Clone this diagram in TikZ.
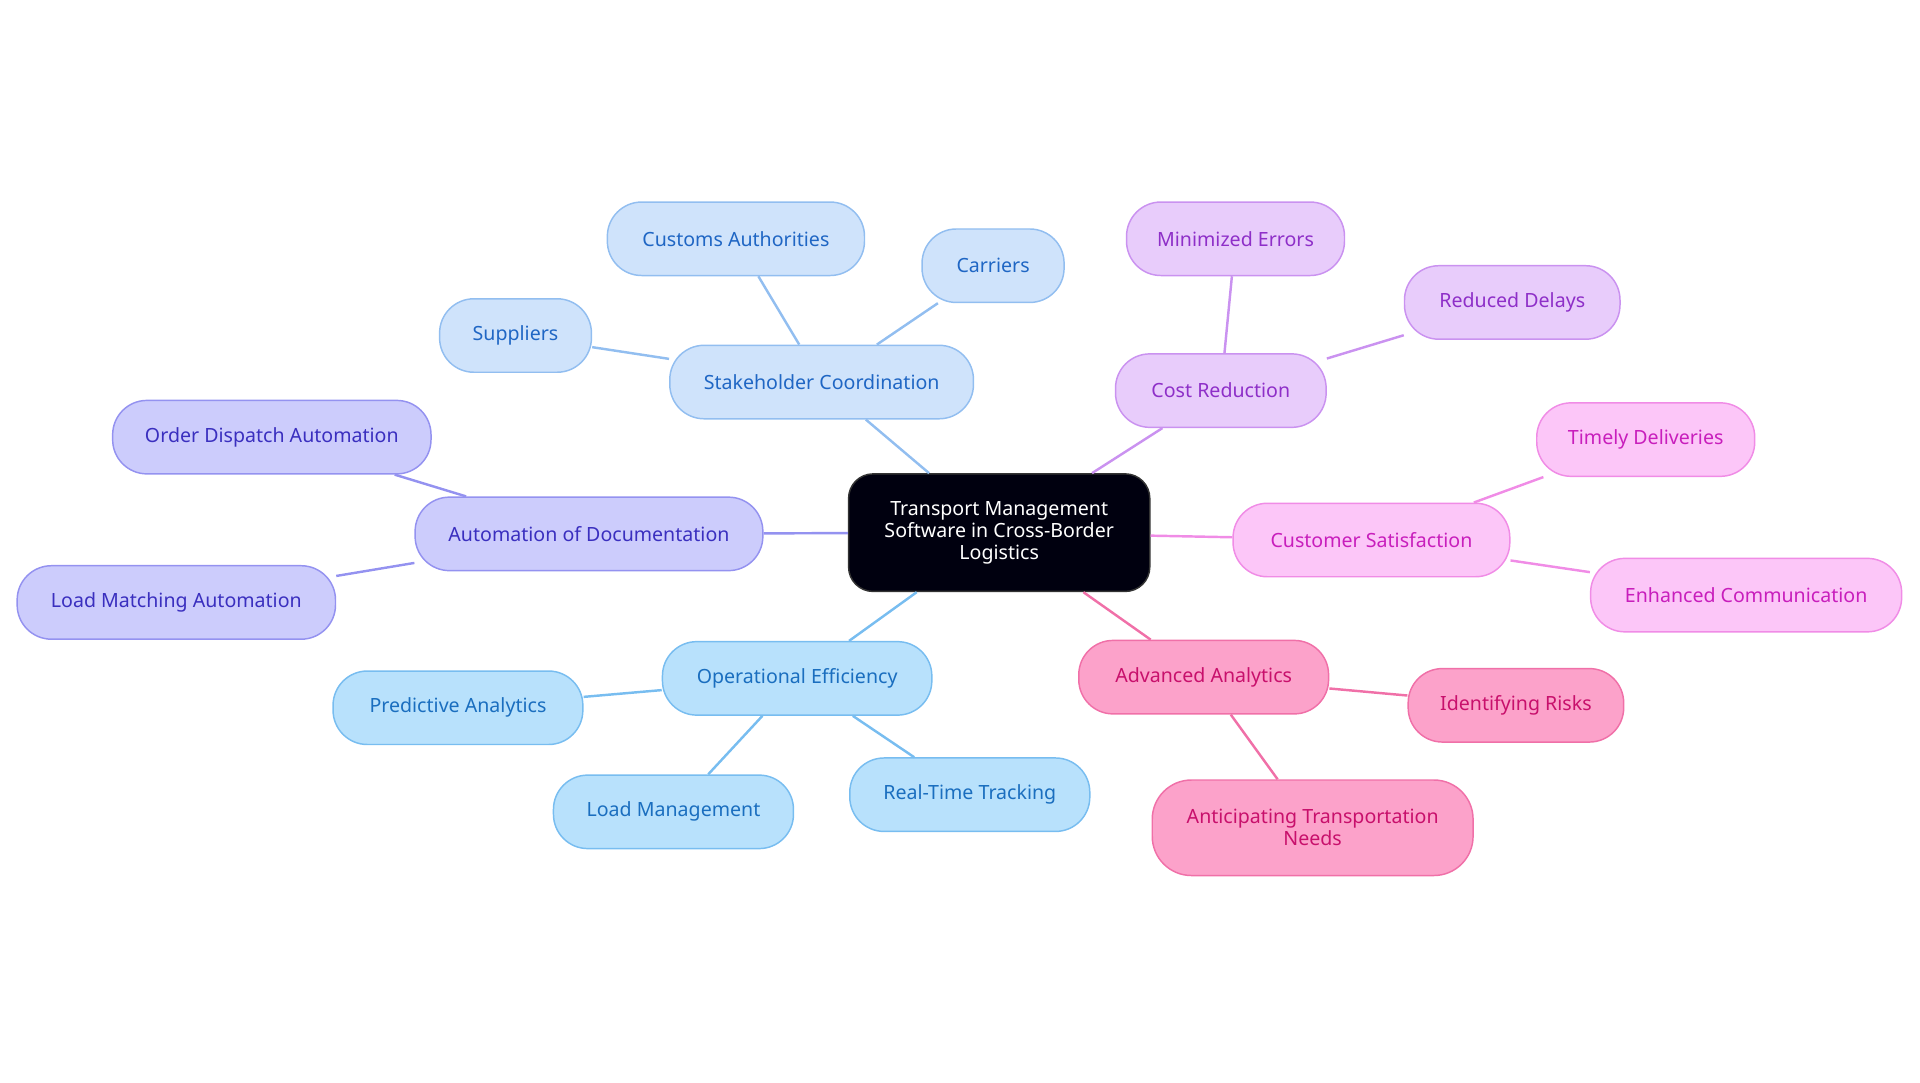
\documentclass[tikz,border=0pt]{standalone}
\usepackage{fontspec}
\setmainfont{Noto Sans}
\begin{document}
\begin{tikzpicture}[x=0.5pt,y=-0.5pt,
 b/.style={draw, line width=0.6pt, rounded corners=14pt, minimum height=30pt, align=center, inner sep=0pt, font=\fontsize{8}{9}\selectfont},
 blu/.style={b, fill=blue1, draw=blue1d, text=blue1t},
 pur/.style={b, fill=pur1, draw=pur1d, text=pur1t},
 pnk/.style={b, fill=pnk1, draw=pnk1d, text=pnk1t},
 red/.style={b, fill=red1, draw=red1d, text=red1t},
 sky/.style={b, fill=sky1, draw=sky1d, text=sky1t},
 ind/.style={b, fill=ind1, draw=ind1d, text=ind1t},
 e/.style={line width=1pt}]
\definecolor{blue1}{HTML}{CFE3FB}\definecolor{blue1d}{HTML}{92BEF0}\definecolor{blue1t}{HTML}{1F66C4}
\definecolor{pur1}{HTML}{E8CCFB}\definecolor{pur1d}{HTML}{CA92F0}\definecolor{pur1t}{HTML}{8E2FC8}
\definecolor{pnk1}{HTML}{FCC6F8}\definecolor{pnk1d}{HTML}{F08CE6}\definecolor{pnk1t}{HTML}{C81EBC}
\definecolor{red1}{HTML}{FCA2CA}\definecolor{red1d}{HTML}{F070A8}\definecolor{red1t}{HTML}{C8106C}
\definecolor{sky1}{HTML}{B8E1FC}\definecolor{sky1d}{HTML}{78BDF0}\definecolor{sky1t}{HTML}{1A6EBF}
\definecolor{ind1}{HTML}{CCCCFC}\definecolor{ind1d}{HTML}{9492F0}\definecolor{ind1t}{HTML}{3A2FBF}
\useasboundingbox (0,0) rectangle (1568,884);
\node[b, fill=black!90!blue!60!black, draw=black!80, text=white, minimum width=123pt, minimum height=48pt, rounded corners=10pt] (c) at (816,435) {Transport Management\\Software in Cross-Border\\Logistics};
\node[blu, minimum width=124pt] (sc) at (671,312) {Stakeholder Coordination};
\node[blu, minimum width=105pt] (ca) at (601,195) {Customs Authorities};
\node[blu, minimum width=58pt] (cr) at (811,217) {Carriers};
\node[blu, minimum width=62pt] (su) at (421,274) {Suppliers};
\node[pur, minimum width=86pt] (co) at (997,319) {Cost Reduction};
\node[pur, minimum width=89pt] (me) at (1009,195) {Minimized Errors};
\node[pur, minimum width=88pt] (rd) at (1235,247) {Reduced Delays};
\node[pnk, minimum width=113pt] (cs) at (1120,441) {Customer Satisfaction};
\node[pnk, minimum width=89pt] (td) at (1344,359) {Timely Deliveries};
\node[pnk, minimum width=127pt] (ec) at (1426,486) {Enhanced Communication};
\node[red, minimum width=102pt] (aa) at (983,553) {Advanced Analytics};
\node[red, minimum width=88pt] (ir) at (1238,576) {Identifying Risks};
\node[red, minimum width=131pt, minimum height=39pt, rounded corners=16pt] (at) at (1072,676) {Anticipating Transportation\\Needs};
\node[sky, minimum width=110pt] (oe) at (651,554) {Operational Efficiency};
\node[sky, minimum width=102pt] (pa) at (374,578) {Predictive Analytics};
\node[sky, minimum width=98pt] (lm) at (550,663) {Load Management};
\node[sky, minimum width=98pt] (rt) at (792,649) {Real-Time Tracking};
\node[ind, minimum width=142pt] (ad) at (481,436) {Automation of Documentation};
\node[ind, minimum width=130pt] (od) at (222,357) {Order Dispatch Automation};
\node[ind, minimum width=130pt] (la) at (144,492) {Load Matching Automation};
\begin{scope}[on background layer/.style={}]
\end{scope}
\begin{pgfinterruptboundingbox}\end{pgfinterruptboundingbox}
\draw[e, blue1d] (c) -- (sc) (sc) -- (ca) (sc) -- (cr) (sc) -- (su);
\draw[e, pur1d] (c) -- (co) (co) -- (me) (co) -- (rd);
\draw[e, pnk1d] (c) -- (cs) (cs) -- (td) (cs) -- (ec);
\draw[e, red1d] (c) -- (aa) (aa) -- (ir) (aa) -- (at);
\draw[e, sky1d] (c) -- (oe) (oe) -- (pa) (oe) -- (lm) (oe) -- (rt);
\draw[e, ind1d] (c) -- (ad) (ad) -- (od) (ad) -- (la);
\end{tikzpicture}
\end{document}
